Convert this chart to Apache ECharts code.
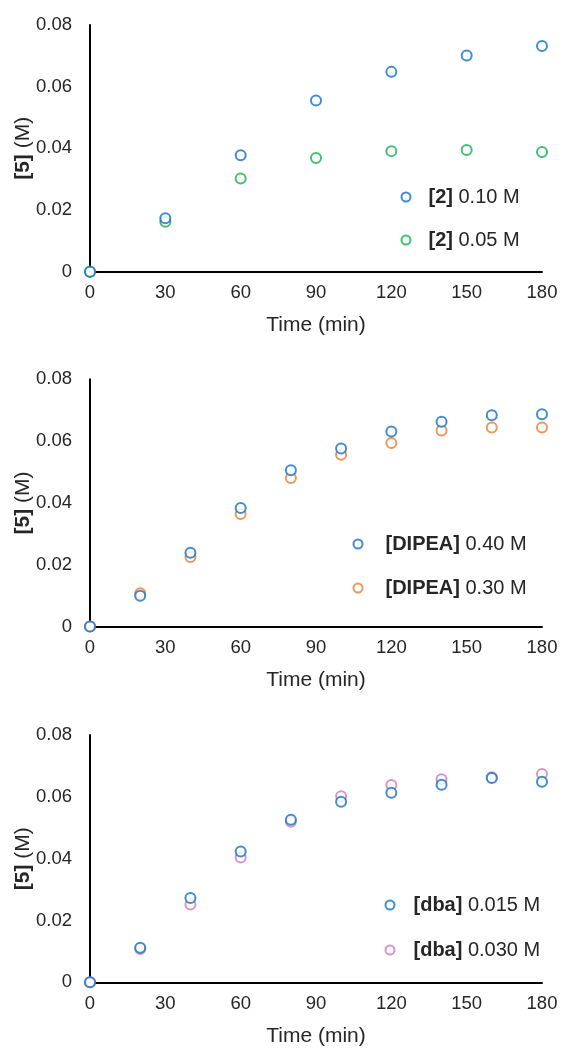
<!DOCTYPE html>
<html><head><meta charset="utf-8">
<script src="https://cdn.jsdelivr.net/npm/echarts@6/dist/echarts.min.js"></script>
<style>html,body{margin:0;padding:0;background:#fff}#c{width:563px;height:1048px}</style>
</head><body><div id="c"></div>
<script>
// ---- data ----
const xTicks = [0, 30, 60, 90, 120, 150, 180];
const yTicks = [0, 0.02, 0.04, 0.06, 0.08];

const t1 = [0, 30, 60, 90, 120, 150, 180];
const p1_a = [0, 0.0173, 0.0378, 0.0555, 0.0648, 0.0701, 0.0732]; // [2] 0.10 M
const p1_b = [0, 0.0162, 0.0302, 0.0369, 0.0391, 0.0395, 0.0388]; // [2] 0.05 M

const t2 = [0, 20, 40, 60, 80, 100, 120, 140, 160, 180];
const p2_a = [0, 0.0100, 0.0239, 0.0384, 0.0506, 0.0576, 0.0631, 0.0663, 0.0684, 0.0687]; // [DIPEA] 0.40 M
const p2_b = [0, 0.0108, 0.0225, 0.0364, 0.0481, 0.0556, 0.0594, 0.0634, 0.0644, 0.0644]; // [DIPEA] 0.30 M

const t3 = [0, 20, 40, 60, 80, 100, 120, 140, 160, 180];
const p3_a = [0, 0.0112, 0.0273, 0.0423, 0.0526, 0.0584, 0.0613, 0.0639, 0.0661, 0.0649]; // [dba] 0.015 M
const p3_b = [0, 0.0108, 0.0252, 0.0404, 0.0519, 0.0602, 0.0638, 0.0657, 0.0663, 0.0674]; // [dba] 0.030 M

const names = [
  ['[2]|0.10 M', '[2]|0.05 M'],
  ['[DIPEA]|0.40 M', '[DIPEA]|0.30 M'],
  ['[dba]|0.015 M', '[dba]|0.030 M']
];
const colors = [
  ['#1170c8', '#14b04e'],
  ['#1170c8', '#f07b2e'],
  ['#1170c8', '#d27bb3']
];

// ---- layout ----
const FONT = '"Liberation Sans", Arial, sans-serif';
const TXT = '#262626';
const TICK_FS = 18.5, TITLE_FS = 21, LEG_FS = 20;
const grids = [
  {left: 90, right: 21, top: 25, height: 246.7},
  {left: 90, right: 21, top: 379.3, height: 247.3},
  {left: 90, right: 21, top: 735, height: 247.3}
];
const legendPos = [
  {left: 400.5, top: 187, gap: 23, pad: 13},
  {left: 352.5, top: 534, gap: 24, pad: 18},
  {left: 384.5, top: 895, gap: 25, pad: 14}
];

const pairs = (xs, ys) => xs.map((x, i) => [x, ys[i]]);
const seriesData = [
  [pairs(t1, p1_a), pairs(t1, p1_b)],
  [pairs(t2, p2_a), pairs(t2, p2_b)],
  [pairs(t3, p3_a), pairs(t3, p3_b)]
];

const xAxes = [], yAxes = [], series = [], legends = [];
grids.forEach((g, i) => {
  xAxes.push({
    type: 'value', gridIndex: i, min: 0, max: 180, interval: 30,
    name: 'Time (min)', nameLocation: 'middle', nameGap: 43, nameMoveOverlap: false,
    nameTextStyle: {fontFamily: FONT, fontSize: TITLE_FS, color: TXT},
    axisLine: {onZero: false, lineStyle: {color: '#000', width: 2}},
    axisTick: {show: false}, splitLine: {show: false},
    axisLabel: {fontFamily: FONT, fontSize: TICK_FS, color: TXT, margin: 12}
  });
  yAxes.push({
    type: 'value', gridIndex: i, min: 0, max: 0.08, interval: 0.02,
    name: '{b|[5]} (M)', nameLocation: 'middle', nameGap: 56, nameMoveOverlap: false,
    nameTextStyle: {fontFamily: FONT, fontSize: TITLE_FS, color: TXT,
      rich: {b: {fontFamily: FONT, fontSize: TITLE_FS, fontWeight: 'bold', color: TXT}}},
    axisLine: {show: true, lineStyle: {color: '#000', width: 2}},
    axisTick: {show: false}, splitLine: {show: false},
    axisLabel: {fontFamily: FONT, fontSize: TICK_FS, color: TXT, margin: 18,
      formatter: v => (v === 0 ? '0' : v.toFixed(2))}
  });
  const legData = [];
  [0, 1].forEach(k => {
    const nm = names[i][k];
    legData.push(nm);
    series.push({
      type: 'scatter', name: nm, xAxisIndex: i, yAxisIndex: i,
      data: seriesData[i][k], symbol: 'emptyCircle', symbolSize: 10,
      z: 10 - k,
      itemStyle: {color: colors[i][k], borderColor: colors[i][k], borderWidth: 1.8},
      emphasis: {disabled: true}
    });
  });
  const lp = legendPos[i];
  legends.push({
    data: legData, orient: 'vertical', left: lp.left, top: lp.top, padding: 0,
    itemGap: lp.gap, itemWidth: 9, itemHeight: 9, icon: 'emptyCircle',
    itemStyle: {borderWidth: 2},
    selectedMode: false,
    formatter: n => { const p = n.split('|'); return '{b|' + p[0] + '} ' + p[1]; },
    textStyle: {fontFamily: FONT, fontSize: LEG_FS, color: TXT, lineHeight: 20,
      padding: [0, 0, 0, lp.pad],
      rich: {b: {fontFamily: FONT, fontSize: LEG_FS, fontWeight: 'bold', color: TXT, lineHeight: 20}}}
  });
});

const chart = echarts.init(document.getElementById('c'), null, {renderer: 'canvas'});
chart.setOption({
  animation: false,
  backgroundColor: '#fff',
  grid: grids,
  xAxis: xAxes,
  yAxis: yAxes,
  legend: legends,
  series: series
});
</script>
</body></html>
